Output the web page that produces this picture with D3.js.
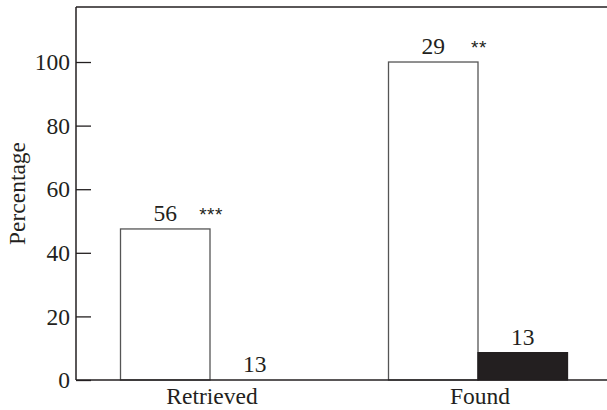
<!DOCTYPE html>
<html><head><meta charset="utf-8">
<script src="https://cdn.jsdelivr.net/npm/d3@7"></script>
<style>body{margin:0;background:#fff}svg{display:block}</style>
</head><body><svg id="c" width="607" height="410"></svg>
<script>
const categories = ["Retrieved", "Found"];
const seriesNames = ["open", "filled"];
const openValues = [47.5, 100];
const filledValues = [0, 8.6];
const openLabels = ["56", "29"];
const filledLabels = ["13", "13"];
const sigLabels = ["***", "**"];
const yTicks = [0, 20, 40, 60, 80, 100];
const yLabel = "Percentage";

(function () {
const svg = d3.select("#c");
const mLeft = 76, mTop = 7, mBottom = 380, mRight = 607;
const font = "'Liberation Serif', 'Times New Roman', serif";
const fs = 23.5;

const y = d3.scaleLinear().domain([0, 117.3]).range([mBottom, mTop]);
const x = d3.scalePoint().domain(categories).range([mLeft, mLeft + 536]).padding(0.5);
const sub = d3.scaleBand().domain(seriesNames).range([-89.5, 89.5]).padding(0);

const data = [];
categories.forEach((c, i) => {
  data.push({cat: c, s: "open", v: openValues[i], lab: openLabels[i], sig: sigLabels[i]});
  data.push({cat: c, s: "filled", v: filledValues[i], lab: filledLabels[i]});
});

svg.selectAll("rect.bar").data(data.filter(d => d.v > 0)).join("rect")
  .attr("class", "bar")
  .attr("x", d => x(d.cat) + sub(d.s))
  .attr("width", sub.bandwidth())
  .attr("y", d => y(d.v))
  .attr("height", d => y(0) - y(d.v))
  .attr("fill", d => d.s === "open" ? "#fff" : "#231f20")
  .attr("stroke", d => d.s === "open" ? "#555" : "#231f20")
  .attr("stroke-width", 1.3);

svg.selectAll("text.val").data(data).join("text")
  .attr("class", "val")
  .attr("x", d => x(d.cat) + sub(d.s) + sub.bandwidth() / 2)
  .attr("y", d => y(d.v) - 8)
  .attr("text-anchor", "middle")
  .attr("font-family", font).attr("font-size", fs).attr("fill", "#231f20")
  .text(d => d.lab);

svg.selectAll("text.sig").data(data.filter(d => d.sig)).join("text")
  .attr("class", "sig")
  .attr("x", d => x(d.cat) + 1)
  .attr("y", d => y(d.v) - 8)
  .attr("text-anchor", "middle")
  .attr("font-family", "'Liberation Sans', Arial, sans-serif").attr("font-size", 19)
  .attr("letter-spacing", 0.5)
  .attr("fill", "#231f20")
  .text(d => d.sig);

const yAxis = d3.axisRight(y).tickValues(yTicks).tickSize(15).tickFormat("");
const gy = svg.append("g").attr("transform", `translate(${mLeft},0)`).call(yAxis);
gy.select(".domain").remove();
gy.selectAll(".tick line").attr("stroke", "#231f20").attr("stroke-width", 1.3);
svg.selectAll("text.ytick").data(yTicks).join("text")
  .attr("class", "ytick")
  .attr("x", mLeft - 6).attr("y", d => y(d))
  .attr("dy", "0.35em")
  .attr("text-anchor", "end")
  .attr("font-family", font).attr("font-size", fs).attr("fill", "#231f20")
  .text(d => d);

svg.append("line").attr("x1", mLeft).attr("x2", mLeft).attr("y1", mTop).attr("y2", mBottom)
  .attr("stroke", "#231f20").attr("stroke-width", 1.5);
svg.append("line").attr("x1", mLeft).attr("x2", mRight).attr("y1", mTop).attr("y2", mTop)
  .attr("stroke", "#231f20").attr("stroke-width", 1.5);
svg.append("line").attr("x1", mLeft).attr("x2", mRight).attr("y1", mBottom).attr("y2", mBottom)
  .attr("stroke", "#231f20").attr("stroke-width", 1.5);

svg.selectAll("text.cat").data(categories).join("text")
  .attr("class", "cat")
  .attr("x", d => x(d) + 2).attr("y", 404)
  .attr("text-anchor", "middle")
  .attr("font-family", font).attr("font-size", fs).attr("fill", "#231f20")
  .text(d => d);

svg.append("text")
  .attr("transform", `translate(25,${(mTop + mBottom) / 2}) rotate(-90)`)
  .attr("text-anchor", "middle")
  .attr("font-family", font).attr("font-size", fs).attr("fill", "#231f20")
  .text(yLabel);
})();
</script></body></html>
